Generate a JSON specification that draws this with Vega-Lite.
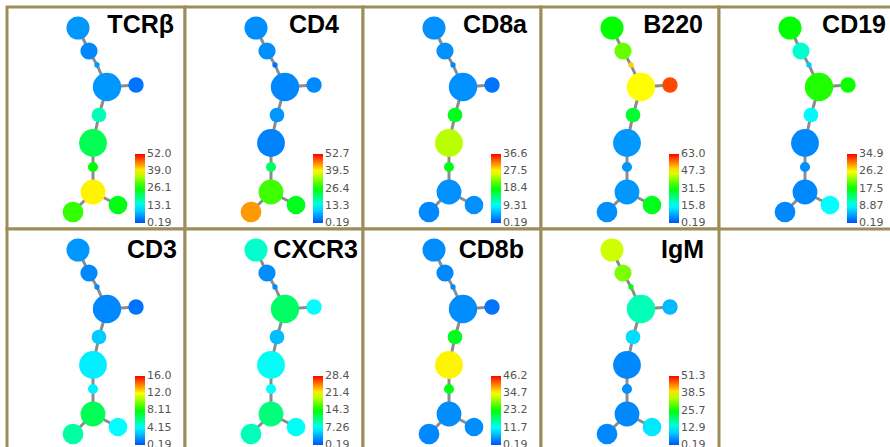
{
  "$schema": "https://vega.github.io/schema/vega-lite/v6.json",
  "padding": {"left": 5, "top": 5, "right": 0, "bottom": 0},
  "background": "white",
  "bounds": "flush",
  "columns": 5,
  "spacing": 0,
  "datasets": {
    "nodes": [
      {"node": "A", "x": 71, "y": 21, "cells": 531, "TCRβ": 5.4, "CD4": 4.9, "CD8a": 3.5, "B220": 31.6, "CD19": 17.5, "CD3": 1.77, "CXCR3": 8.7, "CD8b": 4.3, "IgM": 36.0},
      {"node": "B", "x": 82, "y": 44, "cells": 296, "TCRβ": 4.3, "CD4": 4.9, "CD8a": 3.5, "B220": 37.9, "CD19": 10.6, "CD3": 1.45, "CXCR3": 2.7, "CD8b": 3.9, "IgM": 31.9},
      {"node": "C", "x": 90, "y": 58, "cells": 28, "TCRβ": 5.4, "CD4": 2.8, "CD8a": 3.1, "B220": 50.4, "CD19": 6.4, "CD3": 1.45, "CXCR3": 2.7, "CD8b": 3.9, "IgM": 25.7},
      {"node": "D", "x": 100, "y": 80, "cells": 804, "TCRβ": 5.4, "CD4": 4.4, "CD8a": 3.5, "B220": 47.3, "CD19": 18.6, "CD3": 1.45, "CXCR3": 11.5, "CD8b": 4.3, "IgM": 16.5},
      {"node": "E", "x": 129, "y": 78, "cells": 238, "TCRβ": 2.8, "CD4": 4.4, "CD8a": 2.0, "B220": 58.6, "CD19": 17.9, "CD3": 0.98, "CXCR3": 7.26, "CD8b": 2.5, "IgM": 7.9},
      {"node": "F", "x": 92, "y": 108, "cells": 216, "TCRβ": 16.8, "CD4": 5.4, "CD8a": 17.3, "B220": 28.5, "CD19": 8.5, "CD3": 3.0, "CXCR3": 4.6, "CD8b": 21.8, "IgM": 10.4},
      {"node": "G", "x": 86, "y": 136, "cells": 774, "TCRβ": 21.9, "CD4": 3.9, "CD8a": 25.0, "B220": 6.5, "CD19": 3.0, "CD3": 3.8, "CXCR3": 7.5, "CD8b": 35.2, "IgM": 4.3},
      {"node": "H", "x": 86, "y": 160, "cells": 102, "TCRβ": 26.1, "CD4": 21.2, "CD8a": 17.7, "B220": 6.5, "CD19": 3.3, "CD3": 3.8, "CXCR3": 7.26, "CD8b": 22.3, "IgM": 4.8},
      {"node": "I", "x": 86, "y": 185, "cells": 616, "TCRβ": 39.6, "CD4": 29.6, "CD8a": 3.5, "B220": 6.5, "CD19": 3.0, "CD3": 6.8, "CXCR3": 10.9, "CD8b": 4.3, "IgM": 4.3},
      {"node": "J", "x": 66, "y": 205, "cells": 430, "TCRβ": 28.7, "CD4": 44.8, "CD8a": 3.1, "B220": 5.8, "CD19": 3.0, "CD3": 5.6, "CXCR3": 9.2, "CD8b": 3.9, "IgM": 4.3},
      {"node": "K", "x": 111, "y": 198, "cells": 346, "TCRβ": 25.1, "CD4": 24.9, "CD8a": 3.5, "B220": 29.7, "CD19": 8.87, "CD3": 4.15, "CXCR3": 7.5, "CD8b": 4.3, "IgM": 11.4}
    ],
    "edges": [
      {"from": "A", "to": "B", "x": 71, "y": 21, "x2": 82, "y2": 44},
      {"from": "B", "to": "C", "x": 82, "y": 44, "x2": 90, "y2": 58},
      {"from": "C", "to": "D", "x": 90, "y": 58, "x2": 100, "y2": 80},
      {"from": "D", "to": "E", "x": 100, "y": 80, "x2": 129, "y2": 78},
      {"from": "D", "to": "F", "x": 100, "y": 80, "x2": 92, "y2": 108},
      {"from": "F", "to": "G", "x": 92, "y": 108, "x2": 86, "y2": 136},
      {"from": "G", "to": "H", "x": 86, "y": 136, "x2": 86, "y2": 160},
      {"from": "H", "to": "I", "x": 86, "y": 160, "x2": 86, "y2": 185},
      {"from": "I", "to": "J", "x": 86, "y": 185, "x2": 66, "y2": 205},
      {"from": "I", "to": "K", "x": 86, "y": 185, "x2": 111, "y2": 198}
    ]
  },
  "config": {
    "view": {"stroke": "#9c8d5b", "strokeWidth": 3, "fill": "white"},
    "concat": {"spacing": 0},
    "title": {"anchor": "end", "font": "Liberation Sans", "fontSize": 25, "fontWeight": "bold", "color": "#000000", "offset": -31, "baseline": "alphabetic"},
    "legend": {"gradientLength": 69, "gradientThickness": 10, "labelFont": "DejaVu Sans", "labelFontSize": 11, "labelColor": "#555555", "labelOffset": 5, "gradientStrokeWidth": 0, "labelOverlap": false, "padding": 0},
    "circle": {"opacity": 1},
    "rule": {"color": "#8c8c8c", "strokeWidth": 3}
  },
  "resolve": {"scale": {"color": "independent"}, "legend": {"color": "independent"}},
  "concat": [
    {
      "width": 178, "height": 222,
      "title": {"text": "TCRβ", "dx": -11},
      "layer": [
        {"data": {"name": "edges"}, "mark": {"type": "rule"},
         "encoding": {"x": {"field": "x", "type": "quantitative", "scale": {"domain": [0, 178], "nice": false, "zero": false}, "axis": null}, "y": {"field": "y", "type": "quantitative", "scale": {"domain": [0, 222], "reverse": true, "nice": false, "zero": false}, "axis": null}, "x2": {"field": "x2"}, "y2": {"field": "y2"}}},
        {"data": {"name": "nodes"}, "mark": {"type": "circle"},
         "encoding": {"x": {"field": "x", "type": "quantitative"}, "y": {"field": "y", "type": "quantitative"}, "size": {"field": "cells", "type": "quantitative", "scale": {"domain": [0, 1000], "range": [0, 1000]}, "legend": null},
          "color": {"field": "TCRβ", "type": "quantitative", "scale": {"domain": [0.19, 13.1, 26.1, 39.0, 52.0], "range": ["#0050ff", "#00ffff", "#00ff00", "#ffff00", "#ff0000"], "interpolate": "rgb"},
           "legend": {"title": null, "orient": "none", "legendX": 128, "legendY": 147, "encode": {"labels": {"update": {"baseline": {"value": "middle"}}}}, "values": [0.19, 13.1, 26.1, 39.0, 52.0], "labelExpr": "datum.value < 1 ? format(datum.value, '.2f') : format(datum.value, '.3g')"}}}}
      ]
    },
    {
      "width": 178, "height": 222,
      "title": {"text": "CD4", "dx": -24},
      "layer": [
        {"data": {"name": "edges"}, "mark": {"type": "rule"},
         "encoding": {"x": {"field": "x", "type": "quantitative", "scale": {"domain": [0, 178], "nice": false, "zero": false}, "axis": null}, "y": {"field": "y", "type": "quantitative", "scale": {"domain": [0, 222], "reverse": true, "nice": false, "zero": false}, "axis": null}, "x2": {"field": "x2"}, "y2": {"field": "y2"}}},
        {"data": {"name": "nodes"}, "mark": {"type": "circle"},
         "encoding": {"x": {"field": "x", "type": "quantitative"}, "y": {"field": "y", "type": "quantitative"}, "size": {"field": "cells", "type": "quantitative", "scale": {"domain": [0, 1000], "range": [0, 1000]}, "legend": null},
          "color": {"field": "CD4", "type": "quantitative", "scale": {"domain": [0.19, 13.3, 26.4, 39.5, 52.7], "range": ["#0050ff", "#00ffff", "#00ff00", "#ffff00", "#ff0000"], "interpolate": "rgb"},
           "legend": {"title": null, "orient": "none", "legendX": 128, "legendY": 147, "encode": {"labels": {"update": {"baseline": {"value": "middle"}}}}, "values": [0.19, 13.3, 26.4, 39.5, 52.7], "labelExpr": "datum.value < 1 ? format(datum.value, '.2f') : format(datum.value, '.3g')"}}}}
      ]
    },
    {
      "width": 178, "height": 222,
      "title": {"text": "CD8a", "dx": -14},
      "layer": [
        {"data": {"name": "edges"}, "mark": {"type": "rule"},
         "encoding": {"x": {"field": "x", "type": "quantitative", "scale": {"domain": [0, 178], "nice": false, "zero": false}, "axis": null}, "y": {"field": "y", "type": "quantitative", "scale": {"domain": [0, 222], "reverse": true, "nice": false, "zero": false}, "axis": null}, "x2": {"field": "x2"}, "y2": {"field": "y2"}}},
        {"data": {"name": "nodes"}, "mark": {"type": "circle"},
         "encoding": {"x": {"field": "x", "type": "quantitative"}, "y": {"field": "y", "type": "quantitative"}, "size": {"field": "cells", "type": "quantitative", "scale": {"domain": [0, 1000], "range": [0, 1000]}, "legend": null},
          "color": {"field": "CD8a", "type": "quantitative", "scale": {"domain": [0.19, 9.31, 18.4, 27.5, 36.6], "range": ["#0050ff", "#00ffff", "#00ff00", "#ffff00", "#ff0000"], "interpolate": "rgb"},
           "legend": {"title": null, "orient": "none", "legendX": 128, "legendY": 147, "encode": {"labels": {"update": {"baseline": {"value": "middle"}}}}, "values": [0.19, 9.31, 18.4, 27.5, 36.6], "labelExpr": "datum.value < 1 ? format(datum.value, '.2f') : format(datum.value, '.3g')"}}}}
      ]
    },
    {
      "width": 178, "height": 222,
      "title": {"text": "B220", "dx": -16},
      "layer": [
        {"data": {"name": "edges"}, "mark": {"type": "rule"},
         "encoding": {"x": {"field": "x", "type": "quantitative", "scale": {"domain": [0, 178], "nice": false, "zero": false}, "axis": null}, "y": {"field": "y", "type": "quantitative", "scale": {"domain": [0, 222], "reverse": true, "nice": false, "zero": false}, "axis": null}, "x2": {"field": "x2"}, "y2": {"field": "y2"}}},
        {"data": {"name": "nodes"}, "mark": {"type": "circle"},
         "encoding": {"x": {"field": "x", "type": "quantitative"}, "y": {"field": "y", "type": "quantitative"}, "size": {"field": "cells", "type": "quantitative", "scale": {"domain": [0, 1000], "range": [0, 1000]}, "legend": null},
          "color": {"field": "B220", "type": "quantitative", "scale": {"domain": [0.19, 15.8, 31.5, 47.3, 63.0], "range": ["#0050ff", "#00ffff", "#00ff00", "#ffff00", "#ff0000"], "interpolate": "rgb"},
           "legend": {"title": null, "orient": "none", "legendX": 128, "legendY": 147, "encode": {"labels": {"update": {"baseline": {"value": "middle"}}}}, "values": [0.19, 15.8, 31.5, 47.3, 63.0], "labelExpr": "datum.value < 1 ? format(datum.value, '.2f') : format(datum.value, '.3g')"}}}}
      ]
    },
    {
      "width": 178, "height": 222,
      "title": {"text": "CD19", "dx": -11},
      "layer": [
        {"data": {"name": "edges"}, "mark": {"type": "rule"},
         "encoding": {"x": {"field": "x", "type": "quantitative", "scale": {"domain": [0, 178], "nice": false, "zero": false}, "axis": null}, "y": {"field": "y", "type": "quantitative", "scale": {"domain": [0, 222], "reverse": true, "nice": false, "zero": false}, "axis": null}, "x2": {"field": "x2"}, "y2": {"field": "y2"}}},
        {"data": {"name": "nodes"}, "mark": {"type": "circle"},
         "encoding": {"x": {"field": "x", "type": "quantitative"}, "y": {"field": "y", "type": "quantitative"}, "size": {"field": "cells", "type": "quantitative", "scale": {"domain": [0, 1000], "range": [0, 1000]}, "legend": null},
          "color": {"field": "CD19", "type": "quantitative", "scale": {"domain": [0.19, 8.87, 17.5, 26.2, 34.9], "range": ["#0050ff", "#00ffff", "#00ff00", "#ffff00", "#ff0000"], "interpolate": "rgb"},
           "legend": {"title": null, "orient": "none", "legendX": 128, "legendY": 147, "encode": {"labels": {"update": {"baseline": {"value": "middle"}}}}, "values": [0.19, 8.87, 17.5, 26.2, 34.9], "labelExpr": "datum.value < 1 ? format(datum.value, '.2f') : format(datum.value, '.3g')"}}}}
      ]
    },
    {
      "width": 178, "height": 222,
      "title": {"text": "CD3", "dx": -8, "offset": -34},
      "layer": [
        {"data": {"name": "edges"}, "mark": {"type": "rule"},
         "encoding": {"x": {"field": "x", "type": "quantitative", "scale": {"domain": [0, 178], "nice": false, "zero": false}, "axis": null}, "y": {"field": "y", "type": "quantitative", "scale": {"domain": [0, 222], "reverse": true, "nice": false, "zero": false}, "axis": null}, "x2": {"field": "x2"}, "y2": {"field": "y2"}}},
        {"data": {"name": "nodes"}, "mark": {"type": "circle"},
         "encoding": {"x": {"field": "x", "type": "quantitative"}, "y": {"field": "y", "type": "quantitative"}, "size": {"field": "cells", "type": "quantitative", "scale": {"domain": [0, 1000], "range": [0, 1000]}, "legend": null},
          "color": {"field": "CD3", "type": "quantitative", "scale": {"domain": [0.19, 4.15, 8.11, 12.0, 16.0], "range": ["#0050ff", "#00ffff", "#00ff00", "#ffff00", "#ff0000"], "interpolate": "rgb"},
           "legend": {"title": null, "orient": "none", "legendX": 128, "legendY": 147, "encode": {"labels": {"update": {"baseline": {"value": "middle"}}}}, "values": [0.19, 4.15, 8.11, 12.0, 16.0], "labelExpr": "datum.value < 1 ? format(datum.value, '.2f') : format(datum.value, '.3g')"}}}}
      ]
    },
    {
      "width": 178, "height": 222,
      "title": {"text": "CXCR3", "dx": -5, "offset": -34},
      "layer": [
        {"data": {"name": "edges"}, "mark": {"type": "rule"},
         "encoding": {"x": {"field": "x", "type": "quantitative", "scale": {"domain": [0, 178], "nice": false, "zero": false}, "axis": null}, "y": {"field": "y", "type": "quantitative", "scale": {"domain": [0, 222], "reverse": true, "nice": false, "zero": false}, "axis": null}, "x2": {"field": "x2"}, "y2": {"field": "y2"}}},
        {"data": {"name": "nodes"}, "mark": {"type": "circle"},
         "encoding": {"x": {"field": "x", "type": "quantitative"}, "y": {"field": "y", "type": "quantitative"}, "size": {"field": "cells", "type": "quantitative", "scale": {"domain": [0, 1000], "range": [0, 1000]}, "legend": null},
          "color": {"field": "CXCR3", "type": "quantitative", "scale": {"domain": [0.19, 7.26, 14.3, 21.4, 28.4], "range": ["#0050ff", "#00ffff", "#00ff00", "#ffff00", "#ff0000"], "interpolate": "rgb"},
           "legend": {"title": null, "orient": "none", "legendX": 128, "legendY": 147, "encode": {"labels": {"update": {"baseline": {"value": "middle"}}}}, "values": [0.19, 7.26, 14.3, 21.4, 28.4], "labelExpr": "datum.value < 1 ? format(datum.value, '.2f') : format(datum.value, '.3g')"}}}}
      ]
    },
    {
      "width": 178, "height": 222,
      "title": {"text": "CD8b", "dx": -17, "offset": -34},
      "layer": [
        {"data": {"name": "edges"}, "mark": {"type": "rule"},
         "encoding": {"x": {"field": "x", "type": "quantitative", "scale": {"domain": [0, 178], "nice": false, "zero": false}, "axis": null}, "y": {"field": "y", "type": "quantitative", "scale": {"domain": [0, 222], "reverse": true, "nice": false, "zero": false}, "axis": null}, "x2": {"field": "x2"}, "y2": {"field": "y2"}}},
        {"data": {"name": "nodes"}, "mark": {"type": "circle"},
         "encoding": {"x": {"field": "x", "type": "quantitative"}, "y": {"field": "y", "type": "quantitative"}, "size": {"field": "cells", "type": "quantitative", "scale": {"domain": [0, 1000], "range": [0, 1000]}, "legend": null},
          "color": {"field": "CD8b", "type": "quantitative", "scale": {"domain": [0.19, 11.7, 23.2, 34.7, 46.2], "range": ["#0050ff", "#00ffff", "#00ff00", "#ffff00", "#ff0000"], "interpolate": "rgb"},
           "legend": {"title": null, "orient": "none", "legendX": 128, "legendY": 147, "encode": {"labels": {"update": {"baseline": {"value": "middle"}}}}, "values": [0.19, 11.7, 23.2, 34.7, 46.2], "labelExpr": "datum.value < 1 ? format(datum.value, '.2f') : format(datum.value, '.3g')"}}}}
      ]
    },
    {
      "width": 178, "height": 222,
      "title": {"text": "IgM", "dx": -15, "offset": -34},
      "layer": [
        {"data": {"name": "edges"}, "mark": {"type": "rule"},
         "encoding": {"x": {"field": "x", "type": "quantitative", "scale": {"domain": [0, 178], "nice": false, "zero": false}, "axis": null}, "y": {"field": "y", "type": "quantitative", "scale": {"domain": [0, 222], "reverse": true, "nice": false, "zero": false}, "axis": null}, "x2": {"field": "x2"}, "y2": {"field": "y2"}}},
        {"data": {"name": "nodes"}, "mark": {"type": "circle"},
         "encoding": {"x": {"field": "x", "type": "quantitative"}, "y": {"field": "y", "type": "quantitative"}, "size": {"field": "cells", "type": "quantitative", "scale": {"domain": [0, 1000], "range": [0, 1000]}, "legend": null},
          "color": {"field": "IgM", "type": "quantitative", "scale": {"domain": [0.19, 12.9, 25.7, 38.5, 51.3], "range": ["#0050ff", "#00ffff", "#00ff00", "#ffff00", "#ff0000"], "interpolate": "rgb"},
           "legend": {"title": null, "orient": "none", "legendX": 128, "legendY": 147, "encode": {"labels": {"update": {"baseline": {"value": "middle"}}}}, "values": [0.19, 12.9, 25.7, 38.5, 51.3], "labelExpr": "datum.value < 1 ? format(datum.value, '.2f') : format(datum.value, '.3g')"}}}}
      ]
    }
  ]
}
